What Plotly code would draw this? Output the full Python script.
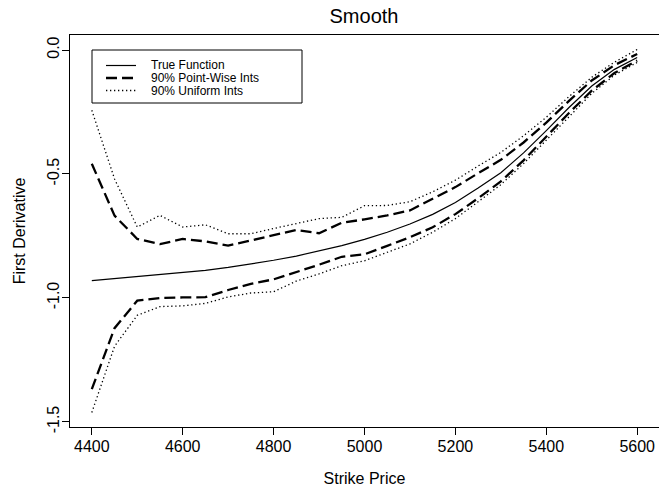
import plotly.graph_objects as go

# ---------------- data ----------------
strike = [4400, 4450, 4500, 4550, 4600, 4650, 4700, 4750, 4800, 4850, 4900, 4950,
          5000, 5050, 5100, 5150, 5200, 5250, 5300, 5350, 5400, 5450, 5500, 5550, 5600]

true_fn = [-0.930, -0.922, -0.915, -0.907, -0.899, -0.889, -0.877, -0.863, -0.848,
           -0.831, -0.811, -0.789, -0.764, -0.735, -0.702, -0.663, -0.615, -0.557,
           -0.495, -0.415, -0.325, -0.232, -0.145, -0.078, -0.030]

pw_upper = [-0.459, -0.668, -0.762, -0.783, -0.762, -0.772, -0.789, -0.768, -0.748,
            -0.726, -0.739, -0.697, -0.683, -0.667, -0.647, -0.600, -0.553, -0.497,
            -0.443, -0.373, -0.293, -0.205, -0.123, -0.061, -0.016]

pw_lower = [-1.368, -1.122, -1.011, -1.000, -0.998, -0.997, -0.968, -0.943, -0.925,
            -0.896, -0.866, -0.834, -0.824, -0.790, -0.755, -0.715, -0.662, -0.598,
            -0.530, -0.445, -0.350, -0.254, -0.164, -0.093, -0.042]

un_upper = [-0.243, -0.520, -0.714, -0.667, -0.714, -0.705, -0.741, -0.741, -0.720,
            -0.701, -0.680, -0.675, -0.628, -0.627, -0.612, -0.572, -0.525, -0.468,
            -0.413, -0.346, -0.271, -0.188, -0.110, -0.049, 0.002]

un_lower = [-1.462, -1.195, -1.070, -1.035, -1.032, -1.022, -0.996, -0.980, -0.975,
            -0.932, -0.903, -0.870, -0.850, -0.815, -0.782, -0.735, -0.680, -0.612,
            -0.543, -0.458, -0.363, -0.267, -0.175, -0.101, -0.050]

x_ticks = [4400, 4600, 4800, 5000, 5200, 5400, 5600]
y_ticks = [0.0, -0.5, -1.0, -1.5]
y_ticktext = ["0.0", "-0.5", "-1.0", "-1.5"]

legend_names = ["True Function", "90% Point-Wise Ints", "90% Uniform Ints"]

# ---------------- styles ----------------
FONT = "Liberation Sans, Arial, sans-serif"
W, H = 659, 495
ML, MR, MT, MB = 70, 0, 35, 68
PW, PH = W - ML - MR, H - MT - MB

style_true = dict(color="black", width=1.2)
style_pw = dict(color="black", width=2.3, dash="11px,5px")
style_un = dict(color="black", width=1.3, dash="1.3px,2.7px")

fig = go.Figure()


def add(y, st, name):
    fig.add_trace(go.Scatter(x=strike, y=y, mode="lines", line=st, name=name,
                             showlegend=False, hoverinfo="x+y"))


add(true_fn, style_true, legend_names[0])
add(pw_upper, style_pw, legend_names[1])
add(pw_lower, style_pw, legend_names[1])
add(un_upper, style_un, legend_names[2])
add(un_lower, style_un, legend_names[2])

# R-style 4% range extension
xr = (min(strike), max(strike))
xext = 0.04 * (xr[1] - xr[0])
all_y = true_fn + pw_upper + pw_lower + un_upper + un_lower
yr = (min(all_y), max(all_y))
yext = 0.04 * (yr[1] - yr[0])


def px2x(px):
    return (px - ML) / PW


def py2y(py):
    return (H - MB - py) / PH


# ---------------- legend (R style box) ----------------
shapes = [dict(type="rect", xref="paper", yref="paper",
               x0=px2x(92), x1=px2x(302), y0=py2y(103), y1=py2y(50),
               line=dict(color="black", width=1), fillcolor="white", layer="above")]
annotations = []
rows = [65.5, 78, 90.5]
for name, st, ry in zip(legend_names, [style_true, style_pw, style_un], rows):
    shapes.append(dict(type="line", xref="paper", yref="paper",
                       x0=px2x(106), x1=px2x(136), y0=py2y(ry), y1=py2y(ry),
                       line=st, layer="above"))
    annotations.append(dict(xref="paper", yref="paper", x=px2x(149), y=py2y(ry),
                            xanchor="left", yanchor="middle", text=name, showarrow=False,
                            font=dict(family=FONT, size=12, color="black")))

fig.update_layout(
    width=W, height=H,
    margin=dict(l=ML, r=MR, t=MT, b=MB, pad=0),
    paper_bgcolor="white", plot_bgcolor="white",
    showlegend=False,
    font=dict(family=FONT, size=16, color="black"),
    title=dict(text="Smooth", x=px2x(364), xref="paper", xanchor="center",
               y=1 - 16 / H, yref="container", yanchor="middle",
               font=dict(family=FONT, size=20, color="black")),
    shapes=shapes, annotations=annotations,
)

fig.update_xaxes(
    range=[xr[0] - xext, xr[1] + xext], tickvals=x_ticks,
    ticks="outside", ticklen=7, tickwidth=1, tickcolor="black",
    showline=True, mirror=True, linecolor="black", linewidth=1,
    showgrid=False, zeroline=False, ticklabelstandoff=-2,
    tickfont=dict(family=FONT, size=16, color="black"),
    title=dict(text="Strike Price", standoff=18, font=dict(family=FONT, size=16, color="black")),
)
fig.update_yaxes(
    range=[yr[0] - yext, yr[1] + yext], tickvals=y_ticks, ticktext=y_ticktext,
    tickangle=-90, ticklabelstandoff=-3,
    ticks="outside", ticklen=7, tickwidth=1, tickcolor="black",
    showline=True, mirror=True, linecolor="black", linewidth=1,
    showgrid=False, zeroline=False,
    tickfont=dict(family=FONT, size=16, color="black"),
    title=dict(text="First Derivative", standoff=14, font=dict(family=FONT, size=16, color="black")),
)

fig.write_html("out.html")
